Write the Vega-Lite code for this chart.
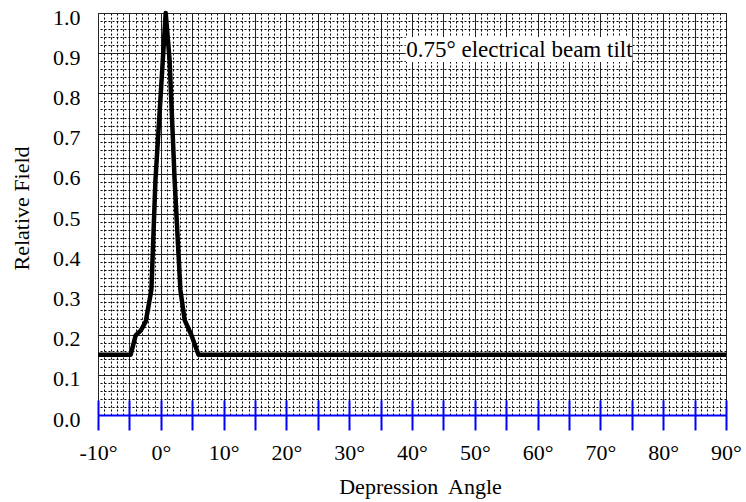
{
  "$schema": "https://vega.github.io/schema/vega-lite/v6.json",
  "width": 628,
  "height": 402,
  "autosize": {"type": "none"},
  "padding": {"left": 98, "top": 13, "right": 20, "bottom": 87},
  "background": "white",
  "config": {"view": {"stroke": null}, "font": "Liberation Serif"},
  "datasets": {
    "curve": [
      {"angle": -10, "field": 0.15},
      {"angle": -4.8, "field": 0.15},
      {"angle": -4.0, "field": 0.198},
      {"angle": -3.2, "field": 0.21},
      {"angle": -2.4, "field": 0.232},
      {"angle": -1.5, "field": 0.311},
      {"angle": -0.85, "field": 0.585},
      {"angle": 0.78, "field": 1.0},
      {"angle": 1.4, "field": 0.883},
      {"angle": 2.2, "field": 0.585},
      {"angle": 3.12, "field": 0.311},
      {"angle": 3.8, "field": 0.236},
      {"angle": 4.87, "field": 0.199},
      {"angle": 6.0, "field": 0.15},
      {"angle": 90, "field": 0.15}
    ],
    "note": [
      {"text": "0.75° electrical beam tilt", "x1": 39.0, "x2": 75.1, "y1": 0.878, "y2": 0.94, "tx": 57.1, "ty": 0.89}
    ]
  },
  "resolve": {"axis": {"x": "independent", "y": "independent"}},
  "layer": [
    {
      "data": {"name": "curve"},
      "mark": {"type": "line", "opacity": 0},
      "encoding": {
        "x": {"field": "angle", "type": "quantitative",
          "scale": {"domain": [-10, 90], "nice": false, "zero": false},
          "axis": {"orient": "top", "offset": 0, "tickCount": 100, "grid": true, "gridDash": [2, 2], "gridColor": "#000", "gridWidth": 1, "labels": false, "ticks": false, "domain": false, "title": null}},
        "y": {"field": "field", "type": "quantitative",
          "scale": {"domain": [0, 1], "nice": false, "zero": false},
          "axis": {"orient": "right", "offset": 0, "tickCount": 50, "grid": true, "gridDash": [2, 2], "gridColor": "#000", "gridWidth": 1, "labels": false, "ticks": false, "domain": false, "title": null}}
      }
    },
    {
      "data": {"name": "curve"},
      "mark": {"type": "line", "opacity": 0},
      "encoding": {
        "x": {"field": "angle", "type": "quantitative",
          "axis": {"orient": "bottom", "offset": 0, "tickCount": 20, "grid": true, "gridColor": "#222", "gridWidth": 1,
            "domain": true, "domainColor": "#0000ff", "domainWidth": 2,
            "ticks": true, "tickColor": "#0000ff", "tickWidth": 2, "tickSize": 15,
            "labelExpr": "datum.value % 10 == 0 ? datum.value + '°' : ''",
            "labelFont": "Liberation Serif", "labelFontSize": 22, "labelColor": "#000", "labelBaseline": "alphabetic", "labelPadding": 29, "labelOverlap": false, "labelFlush": false, "labelBound": false,
            "title": "Depression\u00a0 Angle", "titleFont": "Liberation Serif", "titleFontSize": 22, "titleFontWeight": "normal", "titleColor": "#000",
            "titleX": 322, "titleY": 78, "titleBaseline": "alphabetic", "titleAlign": "center"}},
        "y": {"field": "field", "type": "quantitative",
          "axis": {"orient": "left", "offset": 0, "tickCount": 10, "grid": true, "gridColor": "#222", "gridWidth": 1,
            "domain": false, "ticks": false, "format": ".1f",
            "labelFont": "Liberation Serif", "labelFontSize": 22, "labelColor": "#000", "labelPadding": 18, "labelOffset": 4, "labelFlush": false, "labelBound": false,
            "title": "Relative Field", "titleFont": "Liberation Serif", "titleFontSize": 22, "titleFontWeight": "normal", "titleColor": "#000",
            "titleX": -70, "titleY": 195, "titleAngle": -90, "titleBaseline": "alphabetic", "titleAlign": "center"}}
      }
    },
    {
      "data": {"name": "curve"},
      "mark": {"type": "line", "opacity": 0},
      "encoding": {
        "x": {"field": "angle", "type": "quantitative",
          "axis": {"orient": "bottom", "offset": 0, "tickCount": 20, "grid": false, "domain": false, "labels": false, "title": null,
            "ticks": true, "tickColor": "#0000ff", "tickWidth": 2, "tickSize": -15}},
        "y": {"field": "field", "type": "quantitative", "axis": null}
      }
    },
    {
      "data": {"name": "note"},
      "mark": {"type": "rect", "fill": "white", "stroke": null},
      "encoding": {
        "x": {"field": "x1", "type": "quantitative", "axis": null},
        "x2": {"field": "x2"},
        "y": {"field": "y1", "type": "quantitative", "axis": null},
        "y2": {"field": "y2"}
      }
    },
    {
      "data": {"name": "note"},
      "mark": {"type": "text", "font": "Liberation Serif", "fontSize": 23, "align": "center", "baseline": "alphabetic", "color": "#000"},
      "encoding": {
        "x": {"field": "tx", "type": "quantitative", "axis": null},
        "y": {"field": "ty", "type": "quantitative", "axis": null},
        "text": {"field": "text"}
      }
    },
    {
      "data": {"name": "curve"},
      "mark": {"type": "line", "color": "#000", "strokeWidth": 4.5, "strokeJoin": "round", "clip": false},
      "encoding": {
        "x": {"field": "angle", "type": "quantitative", "axis": null},
        "y": {"field": "field", "type": "quantitative", "axis": null}
      }
    }
  ]
}
